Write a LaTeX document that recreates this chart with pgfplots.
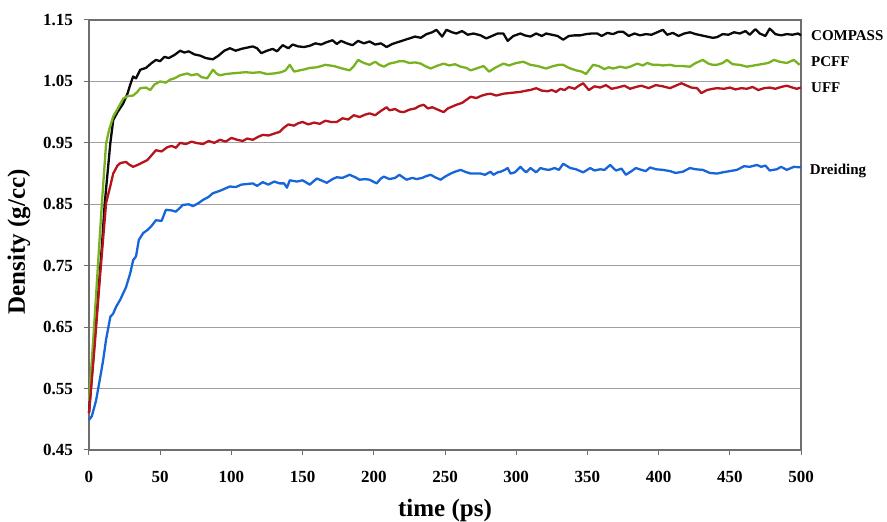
\documentclass[border=0pt]{standalone}
\usepackage{fontspec}
\setmainfont{Liberation Serif}
\usepackage{pgfplots}
\pgfplotsset{compat=1.18}
\definecolor{cblack}{RGB}{10,10,10}
\definecolor{cgreen}{RGB}{120,178,32}
\definecolor{cred}{RGB}{182,20,28}
\definecolor{cblue}{RGB}{22,102,218}
\definecolor{gridgray}{RGB}{160,160,160}
\definecolor{framegray}{RGB}{110,110,110}
\begin{document}
\begin{tikzpicture}
\begin{axis}[
  scale only axis,
  width=712pt, height=430pt,
  xmin=0, xmax=500, ymin=0.45, ymax=1.15,
  xtick={0,50,...,500},
  ytick={0.45,0.55,0.65,0.75,0.85,0.95,1.05,1.15},
  ymajorgrids,
  grid style={gridgray, line width=1.1pt},
  axis line style={framegray, line width=1.1pt},
  tick align=outside,
  major tick length=5pt,
  tick style={framegray, line width=1pt},
  xtick pos=bottom, ytick pos=left,
  /pgf/number format/assume math mode=true,
  yticklabel style={/pgf/number format/fixed, /pgf/number format/precision=2, /pgf/number format/fixed zerofill, inner sep=0pt, anchor=east, xshift=-11pt},
  xticklabel style={inner sep=0pt, anchor=north, yshift=-16pt},
  ticklabel style={font=\fontsize{17}{17}\selectfont\bfseries},
  xlabel={time (ps)},
  ylabel={Density (g/cc)},
  xlabel style={font=\fontsize{25}{25}\selectfont\bfseries, at={(axis description cs:0.5,0)}, anchor=base, inner sep=0pt, yshift=-67pt},
  ylabel style={font=\fontsize{25}{25}\selectfont\bfseries, at={(axis description cs:0,0.5)}, anchor=center, inner sep=0pt, xshift=-7pt, yshift=70pt},
  clip=false,
  every axis plot/.append style={line width=2.3pt, line join=round, no markers},
]
\addplot[cblack] coordinates {
(0,0.51)(3,0.60)(6,0.69)(9,0.78)(11,0.85)(13,0.90)(15,0.95)(17,0.987)(20,1.000)(24,1.014)(27,1.030)(29,1.045)(31,1.058)(33,1.055)(36,1.069)(40,1.072)(44,1.080)(47,1.085)(50,1.083)(53,1.090)(56,1.088)(60,1.093)(64,1.100)(67,1.097)(70,1.099)(74,1.094)(78,1.092)(82,1.088)(87,1.086)(91,1.092)(95,1.100)(99,1.104)(103,1.100)(107,1.103)(111,1.105)(115,1.107)(118,1.104)(121,1.096)(125,1.100)(129,1.103)(132,1.099)(136,1.109)(140,1.104)(143,1.110)(147,1.107)(151,1.106)(155,1.108)(159,1.112)(163,1.110)(167,1.114)(171,1.117)(174,1.111)(177,1.116)(181,1.112)(185,1.109)(189,1.116)(193,1.112)(197,1.115)(201,1.110)(205,1.112)(209,1.106)(213,1.111)(217,1.114)(221,1.117)(225,1.120)(229,1.123)(233,1.121)(237,1.127)(241,1.130)(244,1.134)(248,1.123)(251,1.134)(255,1.130)(258,1.128)(262,1.132)(266,1.126)(270,1.128)(275,1.125)(279,1.120)(283,1.124)(287,1.128)(291,1.128)(294,1.116)(298,1.124)(303,1.128)(306,1.125)(310,1.123)(314,1.128)(318,1.124)(321,1.128)(325,1.126)(329,1.124)(333,1.118)(337,1.124)(341,1.125)(345,1.125)(349,1.127)(353,1.128)(357,1.128)(360,1.124)(364,1.129)(368,1.127)(372,1.131)(375,1.131)(379,1.124)(383,1.128)(387,1.125)(391,1.127)(395,1.126)(399,1.130)(403,1.134)(406,1.126)(410,1.129)(414,1.124)(418,1.128)(422,1.130)(426,1.127)(430,1.125)(434,1.123)(438,1.121)(441,1.122)(445,1.127)(449,1.126)(453,1.130)(457,1.128)(461,1.132)(464,1.126)(468,1.135)(471,1.128)(475,1.124)(478,1.136)(482,1.127)(486,1.125)(490,1.127)(494,1.126)(498,1.128)(500,1.125)
};
\addplot[cgreen] coordinates {
(0,0.53)(3,0.63)(6,0.74)(9,0.85)(12,0.949)(14,0.97)(17,0.993)(20,1.005)(24,1.022)(27,1.026)(31,1.027)(34,1.033)(36,1.039)(40,1.040)(43,1.036)(46,1.045)(50,1.050)(54,1.048)(57,1.053)(60,1.055)(64,1.060)(69,1.063)(72,1.060)(76,1.062)(79,1.057)(83,1.055)(85,1.062)(87,1.069)(90,1.062)(92,1.060)(96,1.062)(100,1.063)(105,1.064)(110,1.065)(115,1.064)(120,1.065)(125,1.062)(130,1.063)(135,1.065)(138,1.068)(141,1.077)(144,1.066)(148,1.068)(152,1.070)(155,1.072)(160,1.073)(166,1.077)(172,1.075)(178,1.071)(183,1.068)(186,1.075)(189,1.085)(193,1.080)(197,1.077)(201,1.082)(204,1.077)(207,1.074)(211,1.079)(215,1.081)(218,1.083)(221,1.083)(225,1.080)(229,1.081)(233,1.079)(236,1.075)(240,1.071)(244,1.075)(249,1.079)(253,1.076)(257,1.078)(261,1.074)(265,1.072)(268,1.068)(272,1.071)(277,1.075)(281,1.066)(285,1.072)(291,1.079)(295,1.076)(300,1.080)(305,1.082)(310,1.077)(315,1.075)(321,1.071)(326,1.075)(330,1.077)(333,1.077)(337,1.072)(342,1.068)(346,1.066)(349,1.062)(354,1.077)(358,1.075)(362,1.070)(365,1.073)(368,1.071)(373,1.074)(377,1.072)(380,1.074)(385,1.079)(389,1.076)(392,1.080)(396,1.077)(400,1.077)(403,1.076)(408,1.077)(412,1.075)(417,1.075)(422,1.074)(426,1.080)(431,1.085)(435,1.079)(438,1.077)(441,1.077)(445,1.080)(448,1.085)(452,1.078)(457,1.077)(462,1.074)(467,1.076)(472,1.078)(477,1.080)(481,1.085)(485,1.082)(490,1.080)(495,1.085)(499,1.077)
};
\addplot[cred] coordinates {
(0,0.51)(4,0.62)(8,0.74)(12,0.852)(15,0.88)(17,0.900)(20,0.913)(22,0.917)(26,0.919)(28,0.915)(31,0.911)(35,0.915)(41,0.922)(44,0.930)(47,0.938)(51,0.936)(55,0.943)(58,0.945)(61,0.942)(64,0.950)(68,0.948)(72,0.952)(75,0.950)(80,0.948)(84,0.953)(88,0.950)(92,0.955)(96,0.952)(100,0.958)(104,0.955)(108,0.953)(111,0.957)(115,0.955)(119,0.960)(122,0.963)(126,0.962)(130,0.965)(134,0.968)(137,0.975)(140,0.980)(144,0.978)(147,0.982)(150,0.984)(154,0.980)(158,0.983)(162,0.981)(166,0.986)(170,0.984)(174,0.984)(178,0.990)(182,0.988)(186,0.995)(190,0.992)(194,0.996)(197,0.998)(201,0.995)(205,1.002)(209,1.008)(211,1.003)(215,1.005)(218,1.001)(221,1.000)(225,1.004)(229,1.006)(232,1.010)(235,1.012)(238,1.006)(241,1.008)(245,1.004)(249,1.000)(252,1.006)(255,1.009)(258,1.012)(262,1.015)(265,1.020)(268,1.025)(272,1.023)(276,1.027)(279,1.029)(282,1.030)(286,1.027)(291,1.030)(295,1.031)(299,1.032)(303,1.033)(307,1.035)(310,1.036)(314,1.039)(318,1.035)(322,1.034)(325,1.036)(328,1.033)(331,1.038)(334,1.036)(337,1.041)(341,1.038)(344,1.043)(347,1.047)(351,1.036)(355,1.042)(359,1.040)(363,1.044)(367,1.038)(371,1.040)(376,1.043)(380,1.038)(384,1.041)(388,1.043)(393,1.039)(398,1.044)(403,1.042)(408,1.039)(412,1.043)(416,1.047)(419,1.044)(423,1.040)(427,1.039)(430,1.031)(434,1.036)(438,1.038)(441,1.039)(446,1.038)(450,1.040)(454,1.037)(458,1.039)(462,1.038)(466,1.041)(470,1.036)(474,1.039)(478,1.040)(482,1.038)(486,1.041)(490,1.043)(494,1.040)(497,1.038)(500,1.040)
};
\addplot[cblue] coordinates {
(0,0.499)(2,0.505)(5,0.531)(8,0.570)(10,0.597)(12,0.630)(15,0.667)(17,0.672)(19,0.683)(22,0.695)(24,0.705)(26,0.715)(29,0.738)(31,0.759)(33,0.765)(35,0.792)(38,0.803)(41,0.808)(44,0.815)(47,0.824)(51,0.823)(54,0.841)(58,0.840)(61,0.838)(66,0.849)(70,0.850)(73,0.847)(77,0.852)(80,0.857)(84,0.862)(87,0.868)(92,0.872)(95,0.875)(99,0.879)(103,0.878)(107,0.882)(111,0.883)(115,0.884)(118,0.880)(122,0.886)(126,0.882)(130,0.887)(134,0.884)(137,0.884)(139,0.877)(141,0.889)(146,0.887)(150,0.889)(155,0.882)(160,0.892)(163,0.889)(167,0.885)(171,0.891)(174,0.894)(178,0.893)(183,0.898)(187,0.894)(190,0.890)(194,0.891)(197,0.890)(202,0.884)(205,0.892)(207,0.895)(211,0.891)(215,0.893)(218,0.898)(221,0.893)(223,0.890)(227,0.893)(230,0.891)(234,0.893)(237,0.896)(240,0.898)(243,0.894)(247,0.890)(250,0.895)(254,0.900)(257,0.903)(261,0.906)(264,0.903)(268,0.900)(271,0.900)(275,0.900)(278,0.898)(282,0.903)(284,0.898)(287,0.902)(289,0.903)(292,0.906)(294,0.909)(296,0.900)(299,0.902)(303,0.911)(305,0.906)(307,0.902)(310,0.909)(314,0.902)(317,0.909)(320,0.907)(323,0.906)(327,0.909)(330,0.906)(333,0.916)(338,0.909)(342,0.907)(347,0.902)(352,0.909)(355,0.905)(359,0.907)(362,0.906)(366,0.914)(370,0.905)(374,0.908)(377,0.898)(381,0.904)(384,0.909)(388,0.906)(391,0.904)(394,0.910)(398,0.907)(403,0.906)(408,0.904)(412,0.901)(417,0.903)(422,0.909)(426,0.907)(431,0.906)(436,0.901)(441,0.900)(445,0.902)(450,0.904)(455,0.906)(460,0.912)(464,0.911)(469,0.914)(472,0.911)(475,0.913)(478,0.905)(483,0.907)(486,0.911)(490,0.906)(495,0.911)(500,0.910)
};
\node[anchor=base west, inner sep=0pt, font=\fontsize{15}{15}\selectfont\bfseries] at (axis cs:507,1.1163) {COMPASS};
\node[anchor=base west, inner sep=0pt, font=\fontsize{15}{15}\selectfont\bfseries] at (axis cs:507,1.075) {PCFF};
\node[anchor=base west, inner sep=0pt, font=\fontsize{15}{15}\selectfont\bfseries] at (axis cs:507,1.0317) {UFF};
\node[anchor=base west, inner sep=0pt, font=\fontsize{15}{15}\selectfont\bfseries] at (axis cs:506,0.8986) {Dreiding};
\end{axis}
\pgfresetboundingbox
\path[use as bounding box] ([shift={(-89pt,-72pt)}]current axis.south west) rectangle ([shift={(86pt,20pt)}]current axis.north east);
\end{tikzpicture}
\end{document}
